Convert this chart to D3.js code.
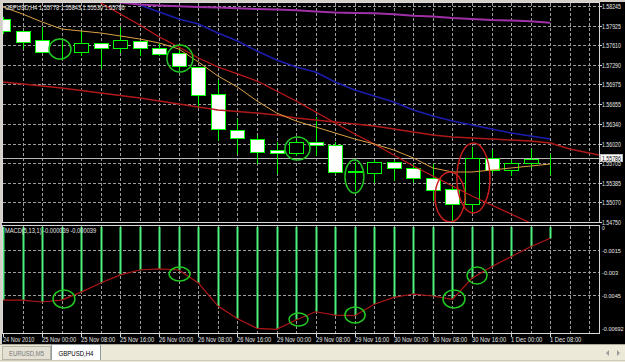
<!DOCTYPE html>
<html lang="en">
<head>
<meta charset="UTF-8">
<title>GBPUSD,H4</title>
<script src="https://d3js.org/d3.v7.min.js"></script>
<style>
html,body{margin:0;padding:0;background:#d4d0c8;overflow:hidden}
svg{display:block}
text{font-family:"Liberation Sans",Arial,sans-serif;font-size:7px}
.grid{stroke:#9c9c9c;stroke-dasharray:3,2;shape-rendering:crispEdges}
</style>
</head>
<body>
<svg id="chart" width="625" height="362"></svg>
<script>
// GBPUSD H4, 29 bars (24 Nov 16:00 .. 1 Dec 08:00)
var timeLabels = ['24 Nov 2010', '25 Nov 00:00', '25 Nov 08:00', '25 Nov 16:00', '26 Nov 00:00',
  '26 Nov 08:00', '26 Nov 16:00', '29 Nov 00:00', '29 Nov 08:00', '29 Nov 16:00', '30 Nov 00:00',
  '30 Nov 08:00', '30 Nov 16:00', '1 Dec 00:00', '1 Dec 08:00'];

var barOpen  = [1.58035, 1.57840, 1.57695, 1.57486, 1.57501, 1.57646, 1.57565, 1.57679, 1.57565, 1.57484,
  1.57258, 1.56821, 1.56239, 1.56093, 1.55915, 1.55866, 1.56044, 1.55996, 1.55559, 1.55543,
  1.55721, 1.55624, 1.55462, 1.55284, 1.55041, 1.55785, 1.55591, 1.55705, 1.55778];
var barHigh  = [1.58067, 1.57845, 1.57905, 1.57679, 1.57840, 1.57650, 1.57905, 1.57685, 1.57646, 1.57582,
  1.57262, 1.57048, 1.56417, 1.56158, 1.56044, 1.56077, 1.56450, 1.56044, 1.55721, 1.55753,
  1.55753, 1.55688, 1.55688, 1.55349, 1.55963, 1.55915, 1.55753, 1.55931, 1.55843];
var barLow   = [1.57808, 1.57565, 1.57495, 1.57387, 1.57452, 1.57242, 1.57501, 1.57452, 1.57460, 1.57209,
  1.56611, 1.56077, 1.55866, 1.55705, 1.55543, 1.55834, 1.55834, 1.55550, 1.55268, 1.55397,
  1.55429, 1.55397, 1.55106, 1.54782, 1.54912, 1.55559, 1.55510, 1.55640, 1.55530];
var barClose = [1.57840, 1.57662, 1.57501, 1.57480, 1.57646, 1.57565, 1.57695, 1.57565, 1.57468, 1.57274,
  1.56805, 1.56255, 1.56109, 1.55883, 1.55866, 1.56044, 1.55996, 1.55559, 1.55570, 1.55721,
  1.55624, 1.55462, 1.55268, 1.55041, 1.55785, 1.55591, 1.55705, 1.55769, 1.55786];

// moving averages
var maFast = [1.58229, 1.58116, 1.57986, 1.57873, 1.57840, 1.57808, 1.57760, 1.57711, 1.57646, 1.57549,
  1.57339, 1.57112, 1.56934, 1.56708, 1.56514, 1.56384, 1.56287, 1.56190, 1.56093, 1.56012,
  1.55915, 1.55786, 1.55624, 1.55559, 1.55559, 1.55591, 1.55624, 1.55656, 1.55688];
var maRed = [1.59151, 1.58973, 1.58811, 1.58633, 1.58472, 1.58294, 1.58116, 1.57938, 1.57743, 1.57582,
  1.57404, 1.57258, 1.57145, 1.57031, 1.56870, 1.56708, 1.56530, 1.56352, 1.56174, 1.56012,
  1.55834, 1.55656, 1.55494, 1.55332, 1.55171, 1.55025, 1.54879, 1.54733, 1.54588];
var maRedShifted = [1.57015, 1.56983, 1.56951, 1.56918, 1.56878, 1.56837, 1.56797, 1.56756, 1.56708, 1.56659,
  1.56611, 1.56562, 1.56538, 1.56514, 1.56481, 1.56433, 1.56400, 1.56368, 1.56336, 1.56303,
  1.56255, 1.56206, 1.56158, 1.56125, 1.56109, 1.56093, 1.56077, 1.56061, 1.56028, 1.55931,
  1.55866, 1.55802];
var maBlue = [1.59054, 1.58941, 1.58828, 1.58714, 1.58601, 1.58488, 1.58374, 1.58261, 1.58148, 1.58035,
  1.57954, 1.57808, 1.57679, 1.57517, 1.57371, 1.57258, 1.57177, 1.57015, 1.56886, 1.56789,
  1.56692, 1.56562, 1.56465, 1.56384, 1.56319, 1.56255, 1.56190, 1.56141, 1.56093];
var maSlow = [1.58504, 1.58472, 1.58439, 1.58407, 1.58374, 1.58342, 1.58302, 1.58269, 1.58253, 1.58240,
  1.58229, 1.58221, 1.58208, 1.58196, 1.58188, 1.58175, 1.58156, 1.58140, 1.58132, 1.58127,
  1.58111, 1.58088, 1.58075, 1.58051, 1.58035, 1.58018, 1.58010, 1.57997, 1.57975];

// MACD(5,13,1) histogram (signal period 1 = same values)
var macdValues = [-0.00486, -0.00486, -0.00499, -0.00486, -0.00433, -0.00373, -0.00319, -0.00286, -0.00279, -0.00286,
  -0.00373, -0.00526, -0.00610, -0.00674, -0.00681, -0.00619, -0.00564, -0.00586, -0.00590, -0.00514,
  -0.00468, -0.00446, -0.00459, -0.00481, -0.00341, -0.00264, -0.00198, -0.00131, -0.00075];

var priceTicks = [1.58245, 1.57925, 1.57610, 1.57290, 1.56975, 1.56655, 1.56340, 1.56020, 1.55705, 1.55385, 1.55070, 1.54750];
var macdTicks = [0, -0.0015, -0.003, -0.0045, -0.00692];
var macdTickLabels = ['0', '-0.0015', '-0.003', '-0.0045', '-0.00692'];
var lastPrice = 1.55786;

// hand drawn marks: bar span and value span
var priceNotes = [
  {from: 2.35, to: 3.48, hi: 1.57711, lo: 1.57387, kind: 'g'},
  {from: 8.39, to: 9.72, hi: 1.57614, lo: 1.57177, kind: 'g'},
  {from: 14.43, to: 15.71, hi: 1.56125, lo: 1.55753, kind: 'g'},
  {from: 17.50, to: 18.47, hi: 1.55753, lo: 1.55219, kind: 'g'},
  {from: 22.11, to: 23.64, hi: 1.55559, lo: 1.54750, kind: 'r'},
  {from: 23.23, to: 24.92, hi: 1.56028, lo: 1.54895, kind: 'r'}
];
var macdNotes = [
  {from: 2.56, to: 3.68, hi: -0.00419, lo: -0.00539},
  {from: 8.50, to: 9.57, hi: -0.00266, lo: -0.00359},
  {from: 14.64, to: 15.61, hi: -0.00572, lo: -0.00659},
  {from: 17.50, to: 18.53, hi: -0.00532, lo: -0.00639},
  {from: 22.52, to: 23.64, hi: -0.00419, lo: -0.00539},
  {from: 23.75, to: 24.77, hi: -0.00266, lo: -0.00379}
];

var svg = d3.select('#chart');
var R = 599.5;
var CH = 2.85; // px per glyph of the small MT4 font
var CHR = 2.7;  // a bit tighter on the price scale

var x = d3.scaleLinear().domain([0, 30]).range([3, 589.2]);
var y = d3.scaleLinear().domain([1.54750, 1.58245]).range([222, 6]);
var ym = d3.scaleLinear().domain([-0.00692, 0.0002]).range([331, 224]);
var px = function(i) { return Math.round(x(i)) + 0.5; };

var defs = svg.append('defs');
defs.append('clipPath').attr('id', 'clipMain').append('rect').attr('x', 3).attr('y', 3).attr('width', 596).attr('height', 219);
defs.append('clipPath').attr('id', 'clipMacd').append('rect').attr('x', 3).attr('y', 226).attr('width', 596).attr('height', 107);

// black chart window
svg.append('rect').attr('x', 2).attr('y', 2).attr('width', 623).attr('height', 342).attr('fill', '#000');

// grid
var bars = d3.range(1, 31);
svg.append('g').selectAll('line').data(bars).join('line').attr('class', 'grid')
  .attr('x1', px).attr('x2', px).attr('y1', 3).attr('y2', 222);
svg.append('g').selectAll('line').data(bars).join('line').attr('class', 'grid')
  .attr('x1', px).attr('x2', px).attr('y1', 226).attr('y2', 333);
svg.append('g').selectAll('line').data(priceTicks).join('line').attr('class', 'grid')
  .attr('x1', 3).attr('x2', R).attr('y1', function(d) { return Math.round(y(d)) + 0.5; })
  .attr('y2', function(d) { return Math.round(y(d)) + 0.5; });
svg.append('g').selectAll('line').data(macdTicks.slice(1, 4)).join('line').attr('class', 'grid')
  .attr('x1', 3).attr('x2', R).attr('y1', function(d) { return Math.round(ym(d)) + 0.5; })
  .attr('y2', function(d) { return Math.round(ym(d)) + 0.5; });

// current price line
svg.append('line').attr('x1', 3).attr('x2', R)
  .attr('y1', Math.round(y(lastPrice)) + 0.5).attr('y2', Math.round(y(lastPrice)) + 0.5)
  .attr('stroke', '#b8b8b8').attr('shape-rendering', 'crispEdges');

// candles
var gMain = svg.append('g').attr('clip-path', 'url(#clipMain)');
var idx = d3.range(barOpen.length);
gMain.append('g').selectAll('line').data(idx).join('line')
  .attr('x1', px).attr('x2', px)
  .attr('y1', function(i) { return Math.round(y(barHigh[i])); })
  .attr('y2', function(i) { return Math.round(y(barLow[i])) + 1; })
  .attr('stroke', '#00ff00').attr('shape-rendering', 'crispEdges');
gMain.append('g').selectAll('rect').data(idx).join('rect')
  .attr('x', function(i) { return px(i) - 7; })
  .attr('y', function(i) { return Math.round(y(Math.max(barOpen[i], barClose[i]))) + 0.5; })
  .attr('width', 14)
  .attr('height', function(i) {
    return Math.max(0, Math.round(y(Math.min(barOpen[i], barClose[i]))) - Math.round(y(Math.max(barOpen[i], barClose[i]))));
  })
  .attr('fill', function(i) { return barClose[i] > barOpen[i] ? '#000' : '#fff'; })
  .attr('stroke', '#00ff00').attr('shape-rendering', 'crispEdges');

// moving averages
var maLine = d3.line().x(function(d, i) { return x(i); }).y(function(d) { return y(d); });
var mas = [
  {v: maRedShifted, c: '#b01818', w: 1.5},
  {v: maRed, c: '#c01818', w: 1.3},
  {v: maBlue, c: '#1c1cb0', w: 1.5},
  {v: maSlow, c: '#a030a8', w: 2},
  {v: maFast, c: '#dba045', w: 1}
];
gMain.append('g').selectAll('path').data(mas).join('path')
  .attr('d', function(m) { return maLine(m.v); })
  .attr('fill', 'none').attr('stroke', function(m) { return m.c; }).attr('stroke-width', function(m) { return m.w; });

// marks on price pane
gMain.append('g').selectAll('ellipse').data(priceNotes).join('ellipse')
  .attr('cx', function(d) { return (x(d.from) + x(d.to)) / 2; })
  .attr('cy', function(d) { return (y(d.hi) + y(d.lo)) / 2; })
  .attr('rx', function(d) { return (x(d.to) - x(d.from)) / 2; })
  .attr('ry', function(d) { return (y(d.lo) - y(d.hi)) / 2; })
  .attr('fill', 'none').attr('stroke', function(d) { return d.kind === 'r' ? '#c81e1e' : '#22c822'; })
  .attr('stroke-width', 1.5);

// MACD pane
var gMacd = svg.append('g').attr('clip-path', 'url(#clipMacd)');
gMacd.append('g').selectAll('line').data(idx).join('line')
  .attr('x1', px).attr('x2', px)
  .attr('y1', Math.round(ym(0))).attr('y2', function(i) { return ym(macdValues[i]); })
  .attr('stroke', '#4cf07c').attr('stroke-width', 2);
gMacd.append('path')
  .attr('d', d3.line().x(function(d, i) { return x(i); }).y(function(d) { return ym(d); })(macdValues))
  .attr('fill', 'none').attr('stroke', '#b01616').attr('stroke-width', 1.2);
gMacd.append('g').selectAll('ellipse').data(macdNotes).join('ellipse')
  .attr('cx', function(d) { return (x(d.from) + x(d.to)) / 2; })
  .attr('cy', function(d) { return (ym(d.hi) + ym(d.lo)) / 2; })
  .attr('rx', function(d) { return (x(d.to) - x(d.from)) / 2; })
  .attr('ry', function(d) { return (ym(d.lo) - ym(d.hi)) / 2; })
  .attr('fill', 'none').attr('stroke', '#22c822').attr('stroke-width', 1.5);

// frames
var frame = svg.append('g').attr('stroke', '#d8d8d8').attr('fill', 'none').attr('shape-rendering', 'crispEdges');
frame.append('rect').attr('x', 2.5).attr('y', 2.5).attr('width', R - 2.5).attr('height', 220);
frame.append('rect').attr('x', 2.5).attr('y', 225.5).attr('width', R - 2.5).attr('height', 108);

// price axis
var ax = svg.append('g').attr('fill', '#e6e6e6');
ax.selectAll('text.p').data(priceTicks).join('text').attr('class', 'p')
  .attr('x', 602).attr('y', function(d) { return Math.round(y(d)) + 2.5; })
  .attr('textLength', function(d) { return d.toFixed(5).length * CHR; })
  .text(function(d) { return d.toFixed(5); });
svg.append('g').selectAll('line').data(priceTicks).join('line')
  .attr('x1', R).attr('x2', R + 2).attr('y1', function(d) { return Math.round(y(d)) + 0.5; })
  .attr('y2', function(d) { return Math.round(y(d)) + 0.5; })
  .attr('stroke', '#d8d8d8').attr('shape-rendering', 'crispEdges');
ax.selectAll('text.m').data(macdTicks).join('text').attr('class', 'm')
  .attr('x', 602).attr('y', function(d) { return Math.min(Math.round(ym(d)) + 3, 331); })
  .attr('textLength', function(d, i) { return macdTickLabels[i].length * CHR; })
  .text(function(d, i) { return macdTickLabels[i]; });

var ly = Math.round(y(lastPrice));
svg.append('rect').attr('x', 600.5).attr('y', ly - 3.5).attr('width', 22).attr('height', 7)
  .attr('fill', '#fff').attr('stroke', '#bbb').attr('shape-rendering', 'crispEdges');
svg.append('text').attr('class', 'p').attr('x', 602).attr('y', ly + 2.5)
  .attr('textLength', 7 * CHR).attr('fill', '#000').text(lastPrice.toFixed(5));

// time axis
var tg = svg.append('g');
tg.selectAll('line').data(timeLabels).join('line')
  .attr('x1', function(d, i) { return px(i * 2); }).attr('x2', function(d, i) { return px(i * 2); })
  .attr('y1', 333).attr('y2', 337).attr('stroke', '#d8d8d8').attr('shape-rendering', 'crispEdges');
tg.selectAll('text').data(timeLabels).join('text')
  .attr('x', function(d, i) { return px(i * 2) - 0.5; }).attr('y', 342).attr('fill', '#e6e6e6')
  .text(function(d) { return d; });

// pane headers
var last = barOpen.length - 1;
svg.append('text').attr('x', 5).attr('y', 10).attr('fill', '#e6e6e6')
  .text('GBPUSD,H4  ' + [barOpen[last], barHigh[last], barLow[last], barClose[last]].map(function(v) { return v.toFixed(5); }).join(' '));
svg.append('text').attr('x', 5).attr('y', 233).attr('fill', '#e6e6e6')
  .text('MACD(5,13,1) -0.000039 -0.000039');

// MT4 small font is narrow: squeeze chart texts
svg.selectAll('text').each(function() {
  var t = d3.select(this);
  if (!t.attr('textLength')) t.attr('textLength', this.textContent.length * CH);
  t.attr('lengthAdjust', 'spacingAndGlyphs');
});
svg.selectAll('text.p').style('font-size', '6.5px');
svg.selectAll('text.m').style('font-size', '6px');

// tab bar
svg.append('rect').attr('x', 0).attr('y', 344).attr('width', 625).attr('height', 18).attr('fill', '#ece9d8');
svg.append('line').attr('x1', 0).attr('x2', 625).attr('y1', 344.5).attr('y2', 344.5).attr('stroke', '#aca899');
svg.append('rect').attr('x', 2.5).attr('y', 346.5).attr('width', 48).attr('height', 13)
  .attr('fill', '#e4e1d4').attr('stroke', '#b8b4a4');
svg.append('text').attr('x', 26.5).attr('y', 355.5).attr('text-anchor', 'middle').attr('fill', '#7a7a7a')
  .attr('textLength', 35).attr('lengthAdjust', 'spacingAndGlyphs').style('font-size', '7.5px').text('EURUSD,M5');
svg.append('rect').attr('x', 51.5).attr('y', 344.5).attr('width', 49).attr('height', 16)
  .attr('fill', '#fff').attr('stroke', '#919b9c');
svg.append('text').attr('x', 76).attr('y', 355.5).attr('text-anchor', 'middle').attr('fill', '#000')
  .attr('textLength', 35).attr('lengthAdjust', 'spacingAndGlyphs').style('font-size', '7.5px').text('GBPUSD,H4');
svg.append('line').attr('x1', 0).attr('x2', 625).attr('y1', 360.5).attr('y2', 360.5).attr('stroke', '#d0ccbc');
svg.append('path').attr('d', 'M606,353 L609,350 L609,356 Z M617,350 L620,353 L617,356 Z').attr('fill', '#9a9a9a');
</script>
</body>
</html>
